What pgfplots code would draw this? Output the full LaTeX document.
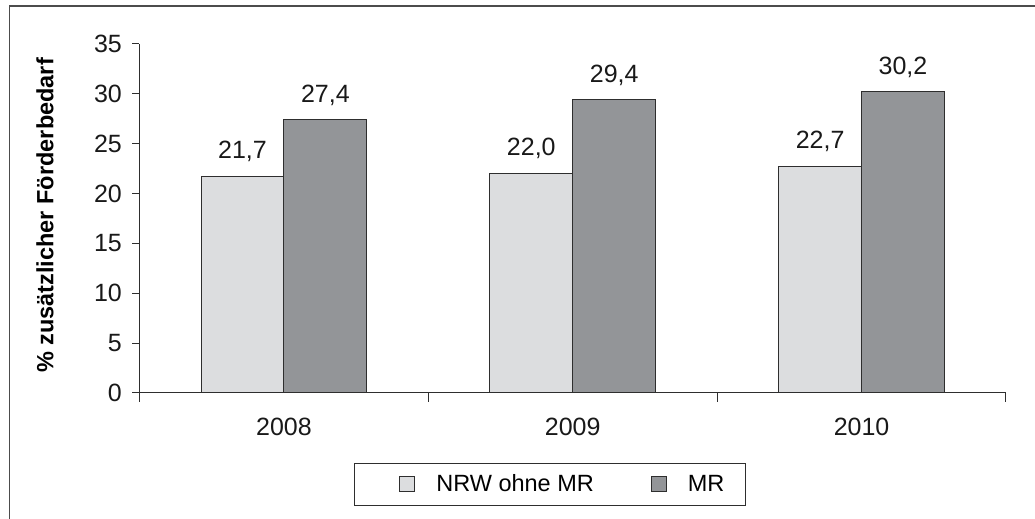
\documentclass[border=0pt]{standalone}
\usepackage{pgfplots}
\usepackage{pgfplotstable}
\pgfplotsset{compat=1.18}
\usepackage{fontspec}
\setmainfont{Liberation Sans}
\definecolor{lightbar}{HTML}{DCDDDF}
\definecolor{darkbar}{HTML}{939598}
\definecolor{edge}{HTML}{2E2E2E}
\newcommand{\fs}{\fontsize{12.5}{15}\selectfont}
\newcommand{\fl}{\fontsize{11.75}{14}\selectfont}
\pgfplotstableread{
x nrw mr
0 21.7 27.4
1 22.0 29.4
2 22.7 30.2
}\datatable
\begin{document}
\begin{tikzpicture}
\useasboundingbox (0,0) rectangle (517.5pt,259.5pt);
\draw[black!70, line width=0.6pt] (4.75pt,-20pt) -- (4.75pt,256.5pt) -- (540pt,256.5pt);
\begin{axis}[
  at={(69.75pt,63pt)}, anchor=south west,
  scale only axis, width=433.25pt, height=174.5pt,
  xmin=-0.5, xmax=2.5, ymin=0, ymax=35,
  axis lines*=left,
  axis line style={edge, line width=0.5pt},
  tick align=outside,
  xtick={0,1,2}, xticklabels={2008,2009,2010},
  minor xtick={-0.5,0.5,1.5,2.5},
  major x tick style={draw=none},
  minor x tick style={edge, line width=0.5pt},
  minor tick length=4.5pt,
  ytick={0,5,...,35},
  major y tick style={edge, line width=0.5pt},
  major tick length=3.5pt,
  /pgf/number format/assume math mode=true,
  ticklabel style={font=\fs, text=black!90},
  yticklabel style={xshift=-1.8pt},
  xticklabel style={yshift=-5.5pt},
  ylabel={\bfseries\% zusätzlicher Förderbedarf},
  every axis y label/.style={at={(axis description cs:0,0.5)}, rotate=90, anchor=center, yshift=47.25pt, xshift=1.5pt, font=\fl},
  bar width=0.287,
  nodes near coords,
  every node near coord/.append style={font=\fs, anchor=south, yshift=3.7pt, text=black!90,
    /pgf/number format/.cd, fixed, fixed zerofill, precision=1, use comma, assume math mode=true},
  legend columns=2,
  legend style={at={(0.4736,-0.262)}, anchor=center, draw=edge, line width=0.5pt,
    font=\fl, inner xsep=10.5pt, inner ysep=5.5pt, nodes={inner sep=0pt},
    /tikz/every odd column/.append style={column sep=10.5pt},
    /tikz/every even column/.append style={column sep=16.5pt}},
  legend image code/.code={\path (-12pt,0pt); \draw[#1, line width=0.5pt] (0pt,-3.75pt) rectangle (7.5pt,3.75pt);},
]
\addplot[ybar, bar shift=0, fill=lightbar, draw=edge, line width=0.5pt] table[x expr=\thisrow{x}-0.1435, y=nrw]{\datatable};
\addlegendentry{NRW ohne MR}
\addplot[ybar, bar shift=0, fill=darkbar, draw=edge, line width=0.5pt] table[x expr=\thisrow{x}+0.1435, y=mr]{\datatable};
\addlegendentry{MR}
\end{axis}
\end{tikzpicture}
\end{document}
